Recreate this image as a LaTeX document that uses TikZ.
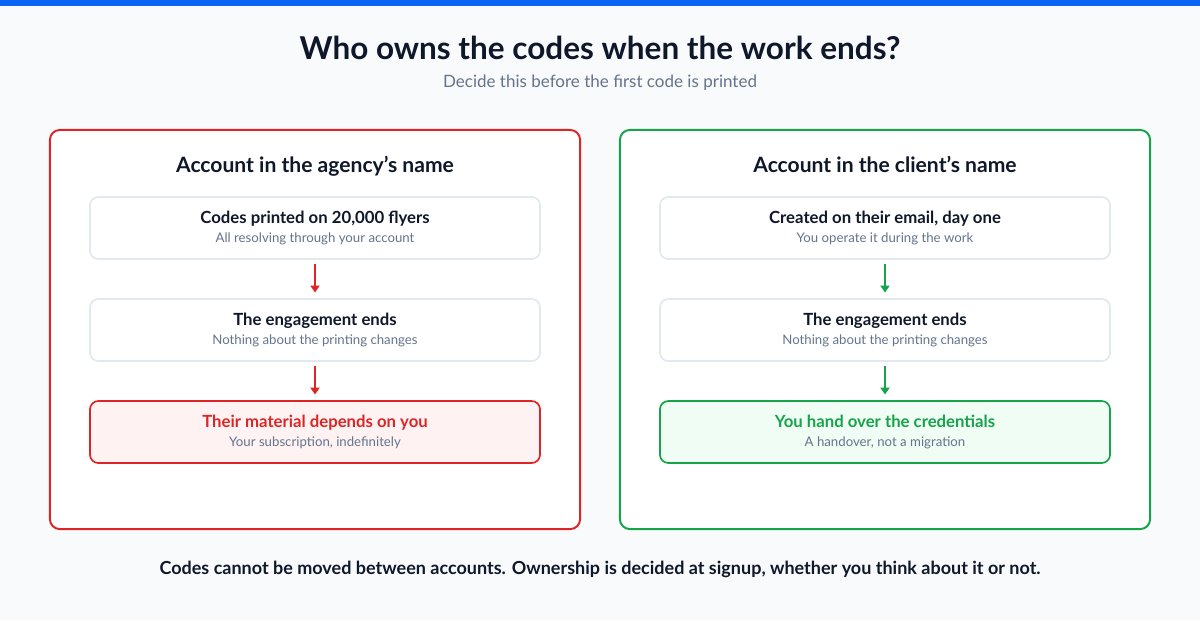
\documentclass[tikz,border=0pt]{standalone}
\usepackage{fontspec}
\setmainfont{Lato}
\usetikzlibrary{positioning,arrows.meta}
\definecolor{ink}{HTML}{0F172A}
\definecolor{muted}{HTML}{64748B}
\definecolor{bgc}{HTML}{F8FAFC}
\definecolor{line}{HTML}{E2E8F0}
\definecolor{bad}{HTML}{DC2626}
\definecolor{badbg}{HTML}{FEF2F2}
\definecolor{good}{HTML}{16A34A}
\definecolor{goodbg}{HTML}{F0FDF4}
\definecolor{topbar}{HTML}{0B63F6}
\tikzset{
  panel/.style={draw=#1, line width=1.4pt, fill=white, rounded corners=7pt, minimum width=13.25cm, minimum height=9.975cm},
  stage/.style={draw=line, line width=1.2pt, fill=white, rounded corners=6pt, minimum width=11.25cm, minimum height=1.55cm, align=center, inner sep=0pt},
  hit/.style={stage, draw=#1},
  flow/.style={draw=#1, line width=1.3pt, shorten <=3pt, shorten >=4pt, -{Triangle[length=5pt,width=6.5pt]}},
  head/.style={text=ink, font=\fontsize{15}{18}\selectfont\bfseries, anchor=base},
}
\newcommand{\stagebox}[3][ink]{{\fontsize{11.9}{14}\selectfont\bfseries\color{#1}#2}\\[1pt]{\fontsize{9.4}{11}\selectfont\color{muted}#3}}
\begin{document}
\begin{tikzpicture}[x=0.025cm,y=-0.025cm]
  \fill[bgc] (0,0) rectangle (1200,620);
  \fill[topbar] (0,0) rectangle (1200,6);
  \node[text=ink, font=\fontsize{22.4}{26}\selectfont\bfseries] (title) at (600,48) {Who owns the codes when the work ends?};
  \node[text=muted, font=\fontsize{12.1}{14}\selectfont] (subtitle) at (600,83) {Decide this before the first code is printed};
  % agency side
  \node[panel=bad] (agency) at (315,329.5) {};
  \node[head] (agencyhead) at (315,172) {Account in the agency’s name};
  \node[stage] (a1) at (315,228) {\stagebox{Codes printed on 20,000 flyers}{All resolving through your account}};
  \node[stage] (a2) at (315,330) {\stagebox{The engagement ends}{Nothing about the printing changes}};
  \node[hit=bad, fill=badbg] (a3) at (315,432) {\stagebox[bad]{Their material depends on you}{Your subscription, indefinitely}};
  \draw[flow=bad] (a1) -- (a2);
  \draw[flow=bad] (a2) -- (a3);
  % client side
  \node[panel=good] (client) at (885,329.5) {};
  \node[head] (clienthead) at (885,172) {Account in the client’s name};
  \node[stage] (c1) at (885,228) {\stagebox{Created on their email, day one}{You operate it during the work}};
  \node[stage] (c2) at (885,330) {\stagebox{The engagement ends}{Nothing about the printing changes}};
  \node[hit=good, fill=goodbg] (c3) at (885,432) {\stagebox[good]{You hand over the credentials}{A handover, not a migration}};
  \draw[flow=good] (c1) -- (c2);
  \draw[flow=good] (c2) -- (c3);
  \node[text=ink, font=\fontsize{12.8}{15}\selectfont\bfseries] (footer) at (600,569) {Codes cannot be moved between accounts. Ownership is decided at signup, whether you think about it or not.};
\end{tikzpicture}
\end{document}
